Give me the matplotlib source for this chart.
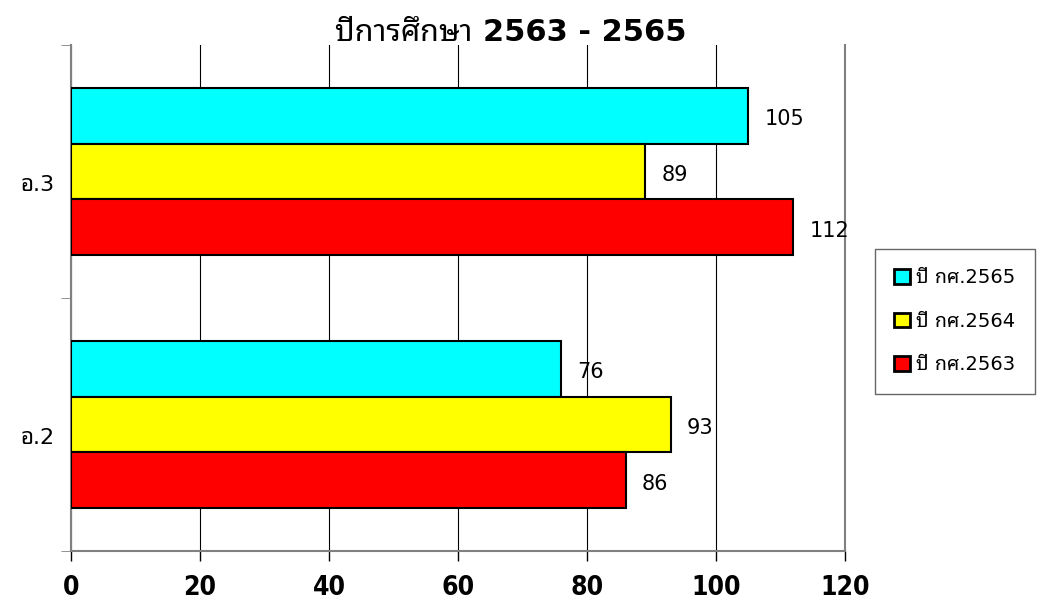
import numpy as np
import matplotlib
matplotlib.use('Agg')
import matplotlib.pyplot as plt

plt.rcParams['font.family'] = ['DejaVu Sans', 'Noto Sans Thai Looped', 'Noto Sans Thai']

# ข้อมูล
categories = ['อ.2', 'อ.3']
series_names = ['ปี กศ.2565', 'ปี กศ.2564', 'ปี กศ.2563']
series_colors = ['#00FFFF', '#FFFF00', '#FF0000']
v2565 = [76, 105]
v2564 = [93, 89]
v2563 = [86, 112]
values = [v2565, v2564, v2563]

fig = plt.figure(figsize=(10.49, 6.07), dpi=100)
ax = fig.add_axes([71 / 1049, 1 - 551 / 607, (845 - 71) / 1049, (551 - 45) / 607])

y = np.arange(len(categories))
h = 0.221
offsets = [h, 0, -h]
for vals, name, col, off in zip(values, series_names, series_colors, offsets):
    bars = ax.barh(y + off, vals, height=h, color=col, edgecolor='black',
                   linewidth=1.5, label=name, zorder=3)
    for b, v in zip(bars, vals):
        ax.text(b.get_width() + 2.5, b.get_y() + b.get_height() / 2 - 0.015, str(v),
                va='center', ha='left', fontsize=15, zorder=4)

ax.set_xlim(0, 120)
ax.set_ylim(-0.5, 1.5)
ax.set_xticks(np.arange(0, 121, 20))
ax.set_xticklabels([str(t) for t in range(0, 121, 20)], fontsize=19,
                   fontweight='bold', fontstretch='condensed')
ax.tick_params(axis='x', length=7, width=1, color='black', pad=10)
ax.set_yticks(y - 0.045)
ax.set_yticklabels(categories, fontsize=16)
ax.tick_params(axis='y', length=0, pad=12)
ax.set_yticks([-0.5, 0.5, 1.5], minor=True)
ax.tick_params(axis='y', which='minor', length=7, color='gray')
ax.grid(axis='x', color='black', linewidth=0.8, zorder=0)

for s in ['left', 'right', 'bottom']:
    ax.spines[s].set_color('gray')
    ax.spines[s].set_linewidth(1.5)
ax.spines['top'].set_visible(False)

fig.text(0.487, 0.947, 'ปีการศึกษา 2563 - 2565', ha='center', va='center',
         fontsize=22, fontweight='bold')

leg = fig.legend(loc='upper left', bbox_to_anchor=(875 / 1049, 1 - 249 / 607),
                 fontsize=14, frameon=True, fancybox=False, edgecolor='#404040',
                 handlelength=0.8, handleheight=0.8, handletextpad=0.3,
                 labelspacing=1.25, borderpad=1.0, borderaxespad=0)
leg.get_frame().set_linewidth(1)
for p in leg.get_patches():
    p.set_linewidth(2)

fig.savefig('out.png', dpi=100)
